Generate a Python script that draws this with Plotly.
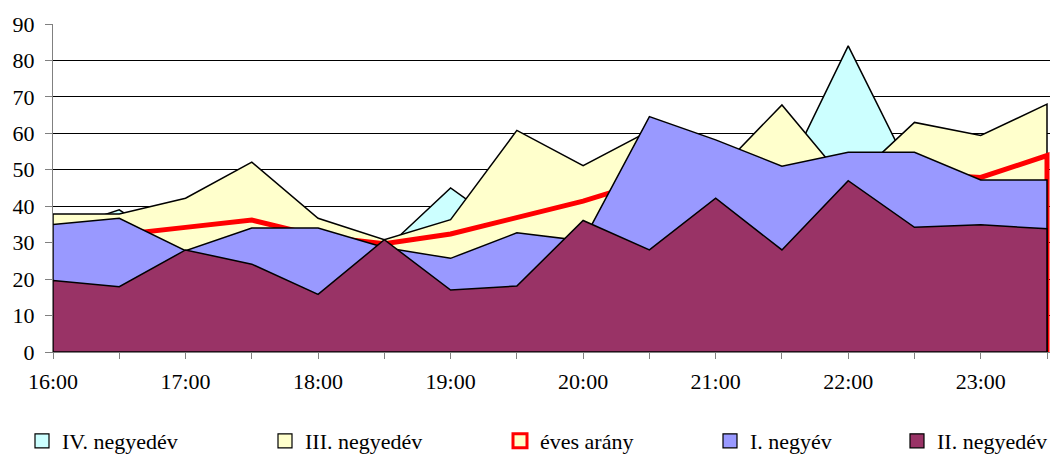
import plotly.graph_objects as go

categories = ["16:00", "16:30", "17:00", "17:30", "18:00", "18:30", "19:00", "19:30",
              "20:00", "20:30", "21:00", "21:30", "22:00", "22:30", "23:00", "23:30"]
tick_labels = ["16:00", "", "17:00", "", "18:00", "", "19:00", "", "20:00", "",
               "21:00", "", "22:00", "", "23:00", ""]

negyedev_IV = [33, 39, 27, 35, 30, 28, 45, 32, 40, 45, 42, 46.6, 84, 47.5, 45, 50]
negyedev_III = [37.9, 37.9, 42.2, 52.1, 36.7, 30.8, 36.3, 60.8, 51.1, 60.7, 49, 67.8, 46, 63, 59.4, 68]
eves_arany = [31, 32.2, 34.2, 36.2, 31.8, 29.7, 32.4, 37.0, 41.4, 47, 47.5, 48, 49, 49, 47.9, 53.9]
negyev_I = [35, 36.7, 27.8, 34, 34, 28.7, 25.7, 32.7, 30.5, 64.6, 58.2, 51, 54.8, 54.8, 47.2, 47.2]
negyedev_II = [19.6, 17.9, 28, 24.1, 15.8, 30.8, 17, 18.1, 36.1, 28, 42.2, 28, 47, 34.2, 34.9, 33.8]

series = [
    ("IV. negyedév", negyedev_IV, "#CCFFFF", "#000000", 1.5),
    ("III. negyedév", negyedev_III, "#FFFFCC", "#000000", 1.5),
    ("éves arány", eves_arany, "#FFFFCC", "#FF0000", 5),
    ("I. negyév", negyev_I, "#9999FF", "#000000", 1.5),
    ("II. negyedév", negyedev_II, "#993366", "#000000", 1.5),
]
# left edge (px) of each legend swatch, as in the original layout
legend_x_px = [35, 278, 513, 723, 910]

FONT = "Liberation Serif"
W, H = 1061, 456

fig = go.Figure()
for name, vals, fillc, linec, lw in series:
    xs = categories + [categories[-1], categories[0], categories[0]]
    ys = list(vals) + [0, 0, vals[0]]
    fig.add_trace(go.Scatter(
        x=xs, y=ys, mode="lines", fill="toself", fillcolor=fillc,
        line=dict(color=linec, width=lw), name=name, showlegend=False,
        hoverinfo="skip"))

legend_layout = {}
for i, (name, vals, fillc, linec, lw) in enumerate(series):
    key = "legend" if i == 0 else f"legend{i + 1}"
    fig.add_trace(go.Scatter(
        x=[None], y=[None], mode="markers", name=name, legend=key,
        marker=dict(symbol="square", size=14, color=fillc,
                    line=dict(color=linec, width=3 if linec == "#FF0000" else 1.2))))
    legend_layout[key] = dict(
        orientation="h", xref="container", yref="container",
        x=(legend_x_px[i] - 13) / W, y=1 - 441 / H,
        xanchor="left", yanchor="middle",
        font=dict(family=FONT, size=22), bgcolor="rgba(0,0,0,0)")

n = len(categories)
extra = 3 / 66.3  # small room so the thick red edge at the last point shows

fig.update_layout(
    width=W, height=H,
    margin=dict(l=53, r=11, t=24, b=104, autoexpand=False),
    paper_bgcolor="white", plot_bgcolor="white",
    font=dict(family=FONT, size=22, color="black"),
    showlegend=True,
    xaxis=dict(type="category", categoryorder="array", categoryarray=categories,
               range=[0, n - 1 + extra], tickmode="array",
               tickvals=categories, ticktext=tick_labels,
               ticks="outside", ticklen=6, tickcolor="#808080", tickwidth=1,
               showline=True, linecolor="#808080", linewidth=1, automargin=False,
               showgrid=False, zeroline=False, ticklabelstandoff=4),
    yaxis=dict(range=[0, 90], tickmode="array", tickvals=list(range(0, 91, 10)),
               ticks="outside", ticklen=7, tickcolor="#808080", tickwidth=1,
               showline=True, linecolor="#808080", linewidth=1, automargin=False,
               showgrid=True, gridcolor="black", gridwidth=1,
               zeroline=False, ticklabelstandoff=6),
    **legend_layout,
)

fig.write_html("out.html", config={"displayModeBar": False},
               post_script="document.body.style.margin='0';document.body.style.overflow='hidden';")
